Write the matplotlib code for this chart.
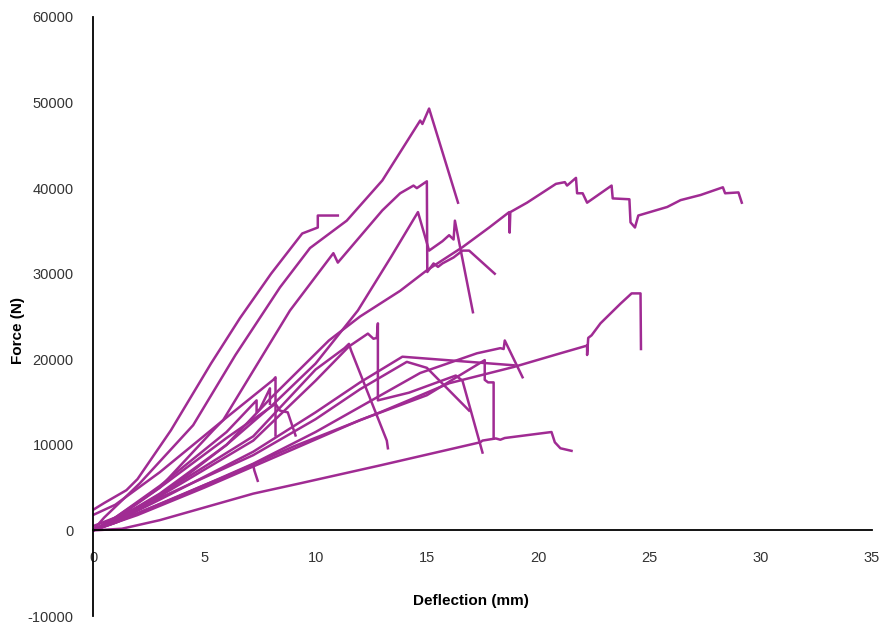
import matplotlib
matplotlib.use("Agg")
import matplotlib.pyplot as plt

plt.rcParams['font.family'] = ['Liberation Sans', 'DejaVu Sans']
plt.rcParams['axes.unicode_minus'] = False

# deflection (mm) / force (N), one pair per specimen
s01_x = [0, 0.5, 2.1, 4.5, 6.4, 8.4, 9.75, 11.4, 13.0, 14.7, 14.8, 15.1, 16.4]
s01_y = [0, 1500, 5500, 12300, 20500, 28400, 33000, 36200, 40900, 47900, 47500, 49300, 38300]

s02_x = [0, 0.5, 1.5, 2.0, 3.5, 5.3, 6.6, 8.0, 9.4, 10.1, 10.1, 11.0]
s02_y = [2400, 3200, 4700, 6000, 11700, 19500, 24800, 30000, 34700, 35400, 36800, 36800]

s03_x = [0, 1, 3, 5.4, 5.85, 8.85, 10.8, 11.0, 13.0, 13.8, 14.4, 14.55, 15.0, 15.02,
         15.3, 15.5, 15.7, 16.2, 16.6, 16.9, 18.05]
s03_y = [0, 1500, 5000, 11700, 12900, 25700, 32400, 31300, 37400, 39400, 40300, 40000, 40800, 30200,
         31200, 30800, 31200, 31900, 32700, 32700, 30000]

s04_x = [0, 1, 3, 6, 8, 10, 11.9, 13.4, 14.6, 15.1, 15.7, 16.0, 16.2, 16.26, 17.07]
s04_y = [0, 1200, 4300, 10000, 14500, 19500, 25700, 32000, 37200, 32700, 33800, 34500, 34000, 36200, 25500]

s05_x = [0, 1, 3, 6, 8, 10.6, 12, 13.8, 15, 16.6, 17.8, 18.7, 18.72, 18.75, 19.5, 20.8, 21.2,
         21.3, 21.7, 21.75, 22.0, 22.2, 23.3, 23.35, 24.1, 24.15, 24.35, 24.5, 25.8, 26.4,
         27.3, 28.3, 28.4, 29.0, 29.15]
s05_y = [0, 1000, 4000, 10000, 15500, 22200, 25000, 28000, 30400, 33100, 35400, 37200, 34800, 37200,
         38300, 40500, 40700, 40300, 41200, 39400, 39400, 38300, 40300, 38800, 38700, 36000,
         35400, 36800, 37800, 38600, 39200, 40100, 39400, 39500, 38300]

s06_x = [0, 2, 5, 9, 12.9, 16, 18.9, 21, 22.2, 22.2, 22.25, 22.4, 22.8, 23.7, 24.2, 24.6, 24.62]
s06_y = [0, 2000, 5200, 9800, 13800, 17200, 19100, 20700, 21600, 20500, 22500, 22800, 24200,
         26500, 27700, 27700, 21200]

s07_x = [0, 1.3, 3.0, 7.2, 9.3, 12.9, 17.4, 17.5, 18.1, 18.3, 18.5, 20.6, 20.75, 21.0, 21.5]
s07_y = [0, 200, 1200, 4300, 5500, 7600, 10300, 10500, 10750, 10600, 10800, 11500, 10300, 9600, 9300]

s08_x = [0, 1, 3, 7.2, 10, 11.3, 11.5, 11.6, 13.2, 13.25]
s08_y = [0, 1200, 4200, 11000, 18800, 21300, 21800, 21000, 10500, 9600]

s09_x = [0, 1, 3, 7.2, 10, 11.5, 12.35, 12.6, 12.75, 12.8, 12.8, 14.2, 16.3, 16.6, 17.5]
s09_y = [0, 1100, 4000, 10500, 17500, 21500, 23000, 22400, 22500, 24200, 15200, 16100, 18100, 17500, 9100]

s10_x = [0, 1, 3, 7.2, 10, 14.7, 17.25, 18.3, 18.45, 18.5, 19.3]
s10_y = [0, 900, 3000, 7800, 11500, 18400, 20700, 21300, 21200, 22200, 17900]

s11_x = [0, 2, 5, 9, 12, 15, 17.6, 17.6, 17.75, 18.0, 18.0]
s11_y = [0, 1800, 5000, 9500, 12900, 15800, 19900, 17600, 17300, 17300, 10750]

s12_x = [0, 1, 3, 7.2, 10, 12, 13.9, 18.9]
s12_y = [0, 1000, 3600, 9200, 13800, 17300, 20300, 19300]

s13_x = [0, 1, 3, 7.2, 10, 12, 14.1, 15.0, 16.9]
s13_y = [500, 1500, 3800, 8800, 13000, 16500, 19700, 19000, 14000]

s14_x = [0, 1, 3, 5, 7.2, 7.25, 7.4]
s14_y = [0, 900, 3100, 5300, 7600, 7000, 5800]

s15_x = [0, 1, 3, 6, 8.1, 8.2, 8.2]
s15_y = [1800, 3000, 6800, 13200, 17600, 17900, 11100]

s16_x = [0, 1, 3, 6, 7.35, 7.35, 7.5, 7.95, 7.95]
s16_y = [0, 1500, 5200, 11500, 15200, 13800, 14200, 16600, 14800]

s17_x = [0, 1, 3, 6, 8.2, 8.4, 8.75, 9.1]
s17_y = [0, 1300, 5000, 10800, 14800, 14000, 13800, 11100]

specimens = [(s01_x, s01_y), (s02_x, s02_y), (s03_x, s03_y), (s04_x, s04_y),
             (s05_x, s05_y), (s06_x, s06_y), (s07_x, s07_y), (s08_x, s08_y),
             (s09_x, s09_y), (s10_x, s10_y), (s11_x, s11_y), (s12_x, s12_y),
             (s13_x, s13_y), (s14_x, s14_y), (s15_x, s15_y), (s16_x, s16_y),
             (s17_x, s17_y)]

fig = plt.figure(figsize=(8.83, 6.27), dpi=100)
ax = fig.add_axes([93 / 883, 1 - 616 / 627, (872 - 93) / 883, (616 - 17) / 627])

for xs, ys in specimens:
    ax.plot(xs, ys, color='#A02B93', linewidth=1.8, solid_joinstyle='round')

ax.set_xlim(0, 35)
ax.set_ylim(-10000, 60000)
ax.set_xticks(range(0, 36, 5))
ax.set_yticks(range(-10000, 60001, 10000))

# spines: y axis at x=0, x axis at y=0
ax.spines['top'].set_visible(False)
ax.spines['right'].set_visible(False)
ax.spines['bottom'].set_position(('data', 0))
ax.spines['left'].set_linewidth(1.3)
ax.spines['bottom'].set_linewidth(1.3)
ax.tick_params(axis='x', length=0, pad=15, labelsize=10.5, colors='#333333')
ax.tick_params(axis='y', length=0, pad=14, labelsize=10.5, colors='#333333')

fig.text(471 / 883, 1 - 601 / 627, 'Deflection (mm)', fontsize=11, fontweight='bold',
         ha='center', va='center')
fig.text(18 / 883, 1 - 330 / 627, 'Force (N)', fontsize=11, fontweight='bold',
         ha='center', va='center', rotation=90)

fig.savefig('out.png', dpi=100)
